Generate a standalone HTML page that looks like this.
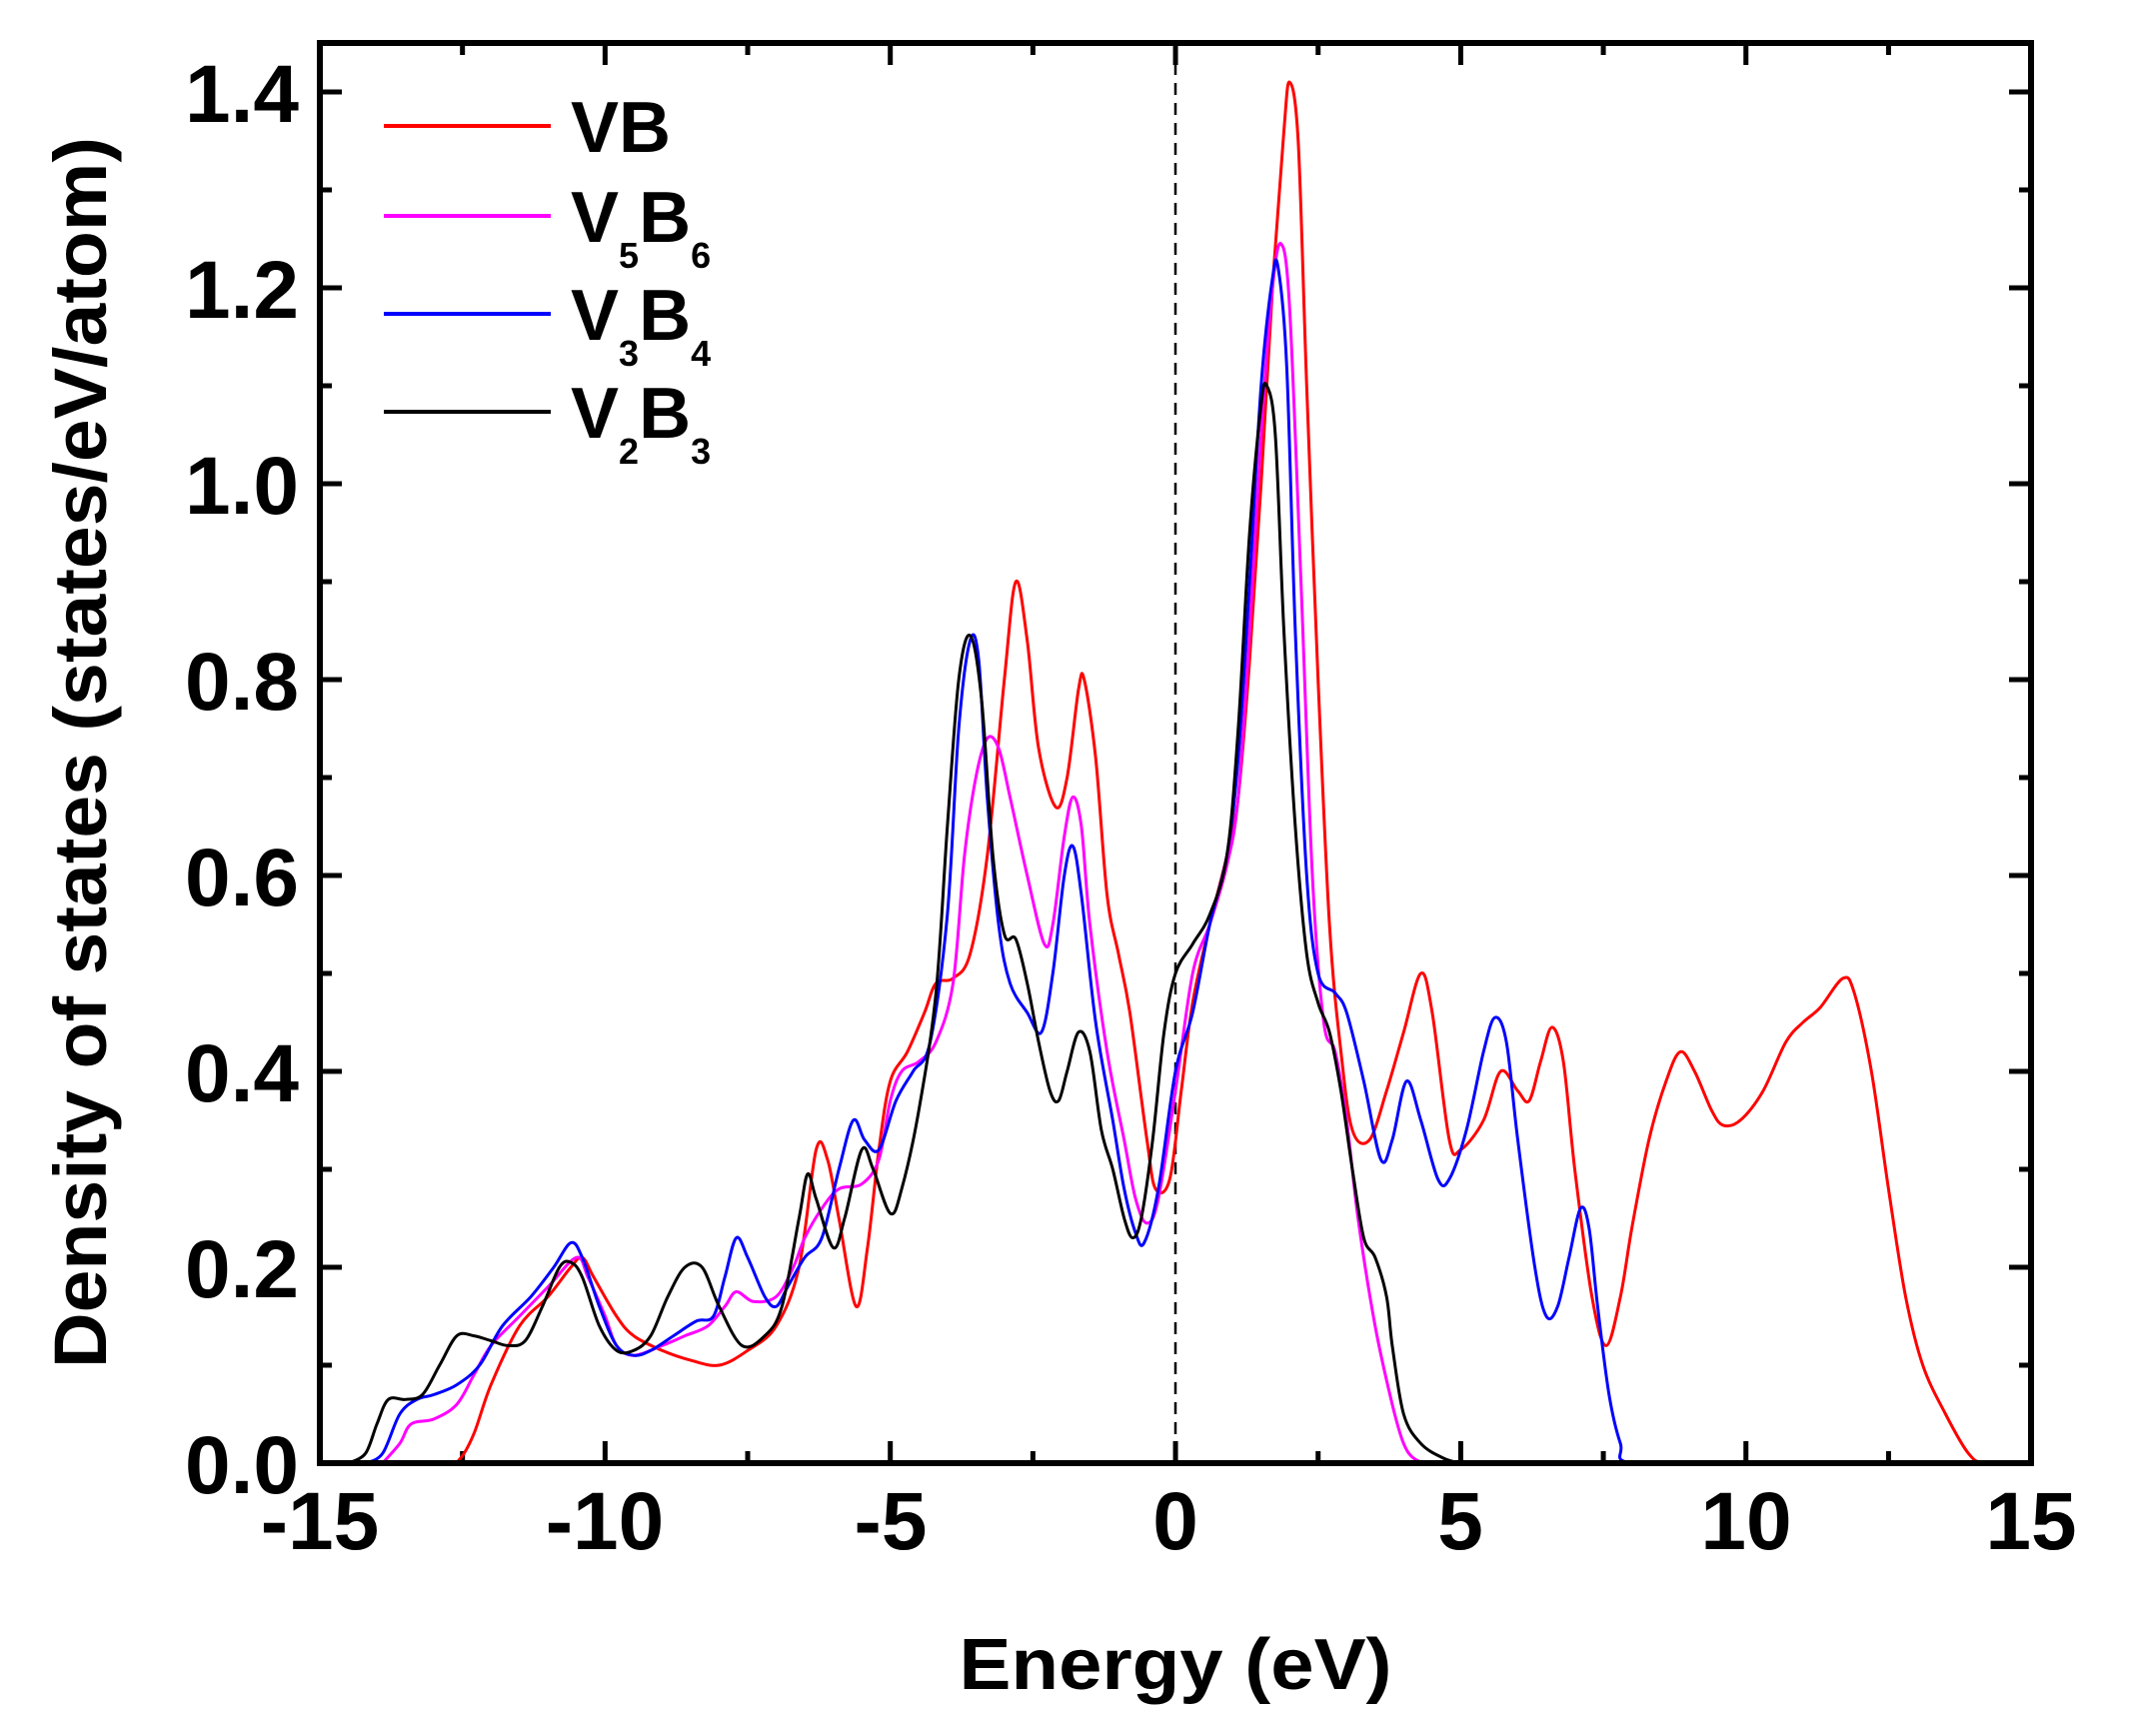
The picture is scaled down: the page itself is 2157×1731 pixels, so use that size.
<!DOCTYPE html>
<html><head><meta charset="utf-8"><style>
html,body{margin:0;padding:0;background:#fff;}
svg{display:block;}
text{font-family:"Liberation Sans",Arial,sans-serif;font-weight:bold;fill:#000;}
</style></head><body>
<svg id="s" width="2157" height="1731" viewBox="0 0 2157 1731" xmlns="http://www.w3.org/2000/svg">
<g id="ticks"></g>
<line x1="1176" y1="43" x2="1176" y2="1464" stroke="#000" stroke-width="2.5" stroke-dasharray="12,8"/>
<g id="curves" fill="none" stroke-width="3" stroke-linejoin="round"></g>
<rect x="320" y="43" width="1712" height="1421" fill="none" stroke="#000" stroke-width="6"/>
<g font-size="82" text-anchor="end">
<text x="299" y="1494">0.0</text>
<text x="299" y="1298">0.2</text>
<text x="299" y="1102">0.4</text>
<text x="299" y="906">0.6</text>
<text x="299" y="710">0.8</text>
<text x="299" y="514">1.0</text>
<text x="299" y="318">1.2</text>
<text x="299" y="122">1.4</text>
</g>
<g font-size="82" text-anchor="middle">
<text x="320" y="1550">-15</text>
<text x="605" y="1550">-10</text>
<text x="891" y="1550">-5</text>
<text x="1176" y="1550">0</text>
<text x="1461" y="1550">5</text>
<text x="1747" y="1550">10</text>
<text x="2032" y="1550">15</text>
</g>
<text x="1176" y="1690" font-size="72" text-anchor="middle" textLength="433" lengthAdjust="spacingAndGlyphs">Energy (eV)</text>
<text transform="translate(106,753) rotate(-90)" font-size="74" text-anchor="middle" textLength="1232" lengthAdjust="spacingAndGlyphs">Density of states (states/eV/atom)</text>
<g stroke-width="4">
<line x1="384" y1="126" x2="551" y2="126" stroke="#ff0000"/>
<line x1="384" y1="216" x2="551" y2="216" stroke="#ff00ff"/>
<line x1="384" y1="314" x2="551" y2="314" stroke="#0000ff"/>
<line x1="384" y1="412" x2="551" y2="412" stroke="#000000"/>
</g>
<g font-size="72">
<text x="571" y="152">VB</text>
<text x="571" y="242">V<tspan font-size="36" dy="26">5</tspan><tspan dy="-26">B</tspan><tspan font-size="36" dy="26">6</tspan></text>
<text x="571" y="340">V<tspan font-size="36" dy="26">3</tspan><tspan dy="-26">B</tspan><tspan font-size="36" dy="26">4</tspan></text>
<text x="571" y="438">V<tspan font-size="36" dy="26">2</tspan><tspan dy="-26">B</tspan><tspan font-size="36" dy="26">3</tspan></text>
</g>
</svg>
<script>
var X=function(e){return 320+(e+15)*57.07;},Y=function(v){return 1464-v*980;};
var NS="http://www.w3.org/2000/svg";
function el(p,t,a){var e=document.createElementNS(NS,t);for(var k in a)e.setAttribute(k,a[k]);p.appendChild(e);return e;}
var tk=document.getElementById("ticks");
for(var i=0;i<=12;i++){var e=-15+i*2.5,x=X(e),L=(i%2==0)?22:12;
el(tk,"line",{x1:x,y1:1464,x2:x,y2:1464-L,stroke:"#000","stroke-width":5});
el(tk,"line",{x1:x,y1:43,x2:x,y2:43+L,stroke:"#000","stroke-width":5});}
for(var j=0;j<=14;j++){var y=Y(j*0.1),L2=(j%2==0)?22:12;
el(tk,"line",{x1:320,y1:y,x2:320+L2,y2:y,stroke:"#000","stroke-width":5});
el(tk,"line",{x1:2032,y1:y,x2:2032-L2,y2:y,stroke:"#000","stroke-width":5});}
var D={
"#ff0000":[-15,0,-12.8,0,-12.55,0.004,-12.3,0.03,-12,0.08,-11.5,0.14,-11,0.17,-10.6,0.2,-10.4,0.21,-10.2,0.19,-9.8,0.15,-9.5,0.13,-9,0.115,-8.5,0.105,-8,0.1,-7.5,0.115,-7,0.14,-6.6,0.2,-6.3,0.32,-6.1,0.31,-5.9,0.25,-5.6,0.16,-5.4,0.22,-5.2,0.32,-5,0.39,-4.7,0.42,-4.4,0.46,-4.2,0.49,-3.9,0.495,-3.6,0.52,-3.3,0.62,-3,0.8,-2.8,0.9,-2.6,0.84,-2.4,0.73,-2.1,0.67,-1.9,0.7,-1.7,0.79,-1.6,0.8,-1.4,0.72,-1.2,0.58,-1,0.52,-0.8,0.46,-0.5,0.33,-0.35,0.28,-0.1,0.29,0.1,0.38,0.3,0.47,0.6,0.55,0.9,0.62,1.1,0.68,1.3,0.82,1.5,1.0,1.7,1.2,1.9,1.36,2.0,1.41,2.15,1.35,2.3,1.1,2.5,0.8,2.7,0.55,2.9,0.42,3.1,0.34,3.4,0.33,3.7,0.38,4,0.44,4.3,0.5,4.5,0.46,4.8,0.33,5,0.32,5.4,0.35,5.7,0.4,6,0.38,6.2,0.37,6.4,0.41,6.6,0.445,6.8,0.41,7,0.3,7.3,0.17,7.55,0.12,7.8,0.17,8,0.24,8.3,0.33,8.6,0.39,8.85,0.42,9.1,0.4,9.4,0.36,9.6,0.345,9.9,0.35,10.3,0.38,10.7,0.43,11,0.45,11.3,0.465,11.7,0.495,11.9,0.48,12.2,0.4,12.5,0.28,12.8,0.17,13.1,0.1,13.5,0.05,13.9,0.01,14.2,0,15,0],
"#ff00ff":[-13.9,0,-13.6,0.02,-13.4,0.04,-13,0.045,-12.6,0.06,-12.3,0.09,-12,0.12,-11.5,0.15,-11,0.18,-10.5,0.21,-10.3,0.19,-10,0.15,-9.8,0.12,-9.5,0.11,-9,0.12,-8.6,0.13,-8.2,0.14,-7.9,0.16,-7.7,0.175,-7.4,0.165,-7,0.17,-6.7,0.2,-6.5,0.23,-6.2,0.26,-5.9,0.28,-5.5,0.285,-5.2,0.31,-5,0.37,-4.8,0.4,-4.5,0.41,-4.2,0.43,-3.9,0.49,-3.7,0.62,-3.5,0.7,-3.3,0.74,-3.1,0.73,-2.9,0.68,-2.6,0.6,-2.3,0.53,-2.15,0.55,-1.95,0.64,-1.8,0.68,-1.65,0.65,-1.5,0.55,-1.2,0.42,-0.9,0.33,-0.7,0.27,-0.5,0.245,-0.3,0.27,0,0.38,0.3,0.5,0.6,0.55,0.9,0.61,1.1,0.68,1.3,0.85,1.5,1.05,1.7,1.2,1.85,1.245,2,1.18,2.2,0.9,2.4,0.6,2.6,0.45,2.8,0.42,3,0.35,3.2,0.25,3.5,0.14,3.8,0.06,4,0.02,4.2,0.004,4.5,0,5,0],
"#0000ff":[-14.2,0,-13.9,0.01,-13.6,0.05,-13.3,0.065,-13,0.07,-12.6,0.08,-12.2,0.1,-11.8,0.14,-11.3,0.17,-10.9,0.2,-10.6,0.225,-10.4,0.21,-10.1,0.16,-9.8,0.12,-9.5,0.11,-9.2,0.115,-8.8,0.13,-8.4,0.145,-8.1,0.15,-7.9,0.19,-7.7,0.23,-7.5,0.21,-7.2,0.17,-7,0.16,-6.8,0.18,-6.5,0.21,-6.2,0.23,-5.9,0.3,-5.65,0.35,-5.45,0.33,-5.2,0.32,-4.9,0.37,-4.6,0.4,-4.3,0.43,-4,0.56,-3.8,0.75,-3.6,0.84,-3.45,0.82,-3.3,0.68,-3.1,0.55,-2.9,0.49,-2.6,0.46,-2.35,0.44,-2.15,0.5,-1.95,0.6,-1.8,0.63,-1.65,0.58,-1.4,0.45,-1.1,0.35,-0.9,0.28,-0.7,0.235,-0.55,0.225,-0.3,0.28,0,0.4,0.3,0.46,0.6,0.55,0.9,0.62,1.1,0.72,1.3,0.9,1.5,1.1,1.7,1.21,1.8,1.22,1.95,1.12,2.1,0.85,2.3,0.6,2.5,0.5,2.8,0.48,3,0.46,3.3,0.39,3.6,0.31,3.8,0.33,4.05,0.39,4.3,0.35,4.6,0.29,4.8,0.29,5.1,0.34,5.4,0.42,5.6,0.455,5.8,0.43,6,0.33,6.3,0.2,6.5,0.15,6.7,0.16,6.9,0.21,7.1,0.26,7.25,0.24,7.4,0.16,7.6,0.07,7.8,0.02,8,0,10,0],
"#000000":[-14.5,0,-14.2,0.01,-14,0.04,-13.8,0.065,-13.5,0.065,-13.2,0.07,-12.9,0.1,-12.6,0.13,-12.3,0.13,-12,0.125,-11.7,0.12,-11.4,0.125,-11.1,0.16,-10.8,0.2,-10.6,0.205,-10.4,0.19,-10.1,0.14,-9.8,0.115,-9.5,0.115,-9.2,0.13,-8.9,0.17,-8.6,0.2,-8.3,0.2,-8,0.16,-7.6,0.12,-7.2,0.13,-6.9,0.16,-6.6,0.25,-6.45,0.295,-6.3,0.27,-6,0.22,-5.8,0.25,-5.5,0.32,-5.3,0.3,-5,0.255,-4.8,0.28,-4.5,0.36,-4.2,0.48,-4,0.65,-3.8,0.8,-3.6,0.845,-3.4,0.78,-3.2,0.62,-3,0.54,-2.8,0.535,-2.6,0.49,-2.4,0.43,-2.2,0.38,-2.05,0.37,-1.9,0.4,-1.7,0.44,-1.5,0.42,-1.3,0.34,-1.1,0.3,-0.9,0.25,-0.75,0.23,-0.6,0.25,-0.4,0.33,-0.2,0.44,0,0.5,0.3,0.53,0.6,0.56,0.9,0.62,1.1,0.75,1.3,0.95,1.5,1.08,1.6,1.1,1.75,1.05,1.9,0.85,2.1,0.65,2.3,0.52,2.5,0.47,2.7,0.44,2.9,0.38,3.1,0.3,3.3,0.23,3.5,0.21,3.7,0.17,3.8,0.12,4,0.05,4.3,0.02,4.7,0.005,5,0]};
var order=["#ff0000","#ff00ff","#0000ff","#000000"],cg=document.getElementById("curves");
order.forEach(function(c){var a=D[c],p=[];for(var i=0;i<a.length;i+=2)p.push([X(a[i]),Y(a[i+1])]);
var d="M"+p[0][0].toFixed(1)+","+p[0][1].toFixed(1);
for(var i=0;i<p.length-1;i++){var p0=p[i>0?i-1:0],p1=p[i],p2=p[i+1],p3=p[i+2<p.length?i+2:i+1];
var c1x=p1[0]+(p2[0]-p0[0])/6,c1y=p1[1]+(p2[1]-p0[1])/6,c2x=p2[0]-(p3[0]-p1[0])/6,c2y=p2[1]-(p3[1]-p1[1])/6;
c1y=Math.min(c1y,1464);c2y=Math.min(c2y,1464);
d+=" C"+c1x.toFixed(1)+","+c1y.toFixed(1)+" "+c2x.toFixed(1)+","+c2y.toFixed(1)+" "+p2[0].toFixed(1)+","+p2[1].toFixed(1);}
el(cg,"path",{d:d,stroke:c});});
</script>
</body></html>
